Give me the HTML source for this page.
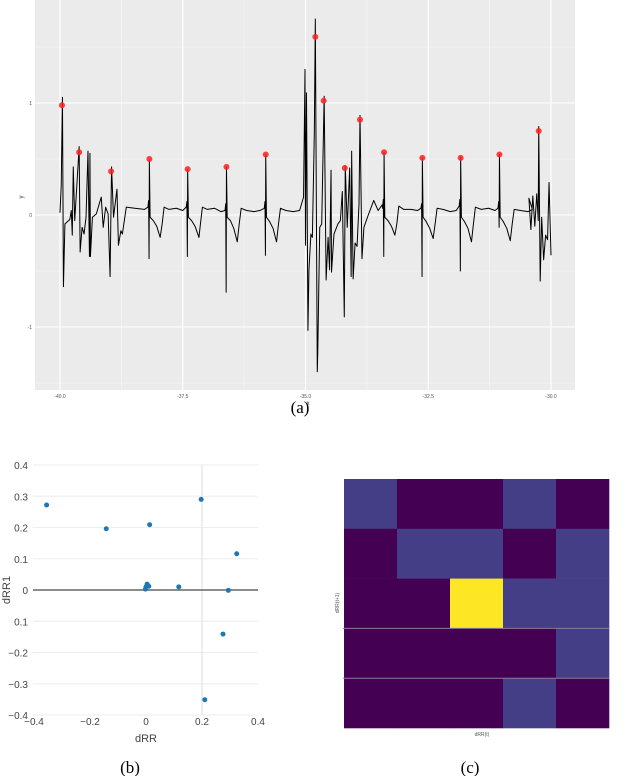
<!DOCTYPE html>
<html><head><meta charset="utf-8">
<style>
html,body{margin:0;padding:0;background:#fff;width:640px;height:776px;overflow:hidden}
svg{display:block}
text{font-family:"Liberation Sans",sans-serif}
.cap{font-family:"Liberation Serif",serif;font-size:17px;fill:#000}
</style></head>
<body>
<svg id="fig" width="640" height="776" viewBox="0 0 640 776">
  <g id="pa"></g>
  <text class="cap" x="300" y="413" text-anchor="middle">(a)</text>
  <g id="pb"></g>
  <text class="cap" x="130" y="773" text-anchor="middle">(b)</text>
  <g id="pc"></g>
  <text class="cap" x="470" y="773" text-anchor="middle">(c)</text>
</svg>
<script>
// ---- Panel (a): ECG ----
const ecgX = [-40.00,-39.975,-39.95,-39.93,-39.90,-39.80,-39.77,-39.75,-39.73,-39.70,-39.61,-39.59,-39.55,-39.51,-39.47,-39.43,-39.40,-39.39,-39.38,-39.34,-39.26,-39.16,-39.12,-39.07,-39.02,-38.98,-38.95,-38.91,-38.84,-38.81,-38.76,-38.73,-38.65,-38.48,
-38.28,-38.21,-38.195,-38.186,-38.18,-38.165,-38.10,-38.03,-37.96,-37.92,-37.88,-37.78,-37.63,-37.50,
-37.43,-37.415,-37.406,-37.40,-37.385,-37.32,-37.25,-37.17,-37.14,-37.10,-37.00,-36.85,-36.72,
-36.64,-36.625,-36.616,-36.61,-36.595,-36.53,-36.46,-36.39,-36.35,-36.31,-36.20,-36.05,-35.93,
-35.84,-35.825,-35.816,-35.81,-35.795,-35.73,-35.66,-35.59,-35.55,-35.51,-35.40,-35.25,-35.12,
-35.04,-35.01,-35.00,-34.98,-34.95,-34.93,-34.89,-34.86,-34.82,-34.80,-34.76,-34.75,-34.71,-34.67,-34.62,-34.58,-34.54,-34.51,-34.48,-34.47,-34.42,-34.34,-34.29,-34.25,-34.21,-34.19,-34.15,-34.10,-34.07,-34.06,-34.03,-33.99,-33.95,-33.91,-33.89,-33.85,-33.81,-33.73,-33.61,-33.52,-33.44,
-33.43,-33.415,-33.406,-33.40,-33.385,-33.32,-33.25,-33.18,-33.14,-33.10,-33.00,-32.85,-32.72,
-32.65,-32.635,-32.626,-32.62,-32.605,-32.54,-32.47,-32.40,-32.36,-32.32,-32.20,-32.05,-31.93,
-31.87,-31.855,-31.846,-31.84,-31.825,-31.76,-31.69,-31.62,-31.58,-31.54,-31.42,-31.27,-31.14,
-31.08,-31.065,-31.056,-31.05,-31.035,-30.97,-30.90,-30.83,-30.79,-30.75,-30.62,-30.47,-30.38,
-30.45,-30.41,-30.37,-30.33,-30.29,-30.26,-30.25,-30.22,-30.19,-30.15,-30.11,-30.07,-30.04,-30.00];
const ecgY = [0.02,0.27,1.05,-0.64,-0.08,-0.04,0.04,-0.18,0.43,-0.05,0.61,-0.33,-0.11,-0.17,-0.02,0.57,-0.37,0.55,-0.37,-0.02,0.01,0.16,-0.11,0.07,0.01,-0.55,0.43,-0.02,0.23,-0.27,-0.14,-0.17,0.07,0.06,
0.05,0.07,0.13,-0.39,0.49,-0.02,-0.05,-0.10,-0.20,-0.08,0.07,0.05,0.06,0.04,
0.07,0.12,-0.37,0.41,-0.02,-0.05,-0.10,-0.20,-0.08,0.07,0.05,0.06,0.03,
0.04,0.10,-0.69,0.43,-0.02,-0.05,-0.12,-0.24,-0.08,0.06,0.04,0.03,0.04,
0.06,0.12,-0.36,0.54,-0.02,-0.06,-0.12,-0.24,-0.08,0.06,0.04,0.03,0.04,
0.16,1.30,-0.27,1.09,-1.03,-0.49,-0.17,-0.20,0.74,1.75,-1.40,-1.22,-0.11,-0.08,1.06,-0.58,-0.20,-0.49,0.40,-0.51,-0.17,-0.08,-0.05,0.21,-0.91,0.44,-0.11,0.42,-0.55,0.57,-0.57,-0.25,-0.28,0.10,0.89,-0.39,-0.11,-0.01,0.13,0.04,0.09,
0.06,0.14,-0.37,0.56,-0.02,-0.05,-0.10,-0.18,-0.08,0.08,0.05,0.05,0.04,
0.06,0.10,-0.55,0.51,-0.02,-0.06,-0.12,-0.21,-0.08,0.06,0.05,0.03,0.04,
0.08,0.14,-0.50,0.52,-0.02,-0.06,-0.12,-0.24,-0.08,0.07,0.05,0.06,0.04,
0.06,0.12,-0.11,0.54,-0.02,-0.06,-0.12,-0.23,-0.08,0.05,0.04,0.03,0.05,
0.15,-0.13,0.17,-0.10,0.19,-0.05,0.79,-0.59,-0.02,-0.40,-0.18,-0.22,0.29,-0.36];
const peakX = [-39.96,-39.61,-38.96,-38.18,-37.40,-36.61,-35.81,-34.80,-34.63,-34.20,-33.89,-33.40,-32.62,-31.84,-31.05,-30.25];
const peakY = [0.98,0.56,0.39,0.50,0.41,0.43,0.54,1.59,1.02,0.42,0.85,0.56,0.51,0.51,0.54,0.75];
const aXTicks = [-40,-37.5,-35,-32.5,-30];
const aXTickLabels = ["-40.0","-37.5","-35.0","-32.5","-30.0"];
const aYTicks = [-1,0,1];
const aYTickLabels = ["-1","0","1"];

// ---- Panel (b): Poincare ----
const dRR = [-0.355,-0.142,0.013,0.197,0.324,0.004,0.0,0.010,-0.002,0.117,0.294,0.275,0.210];
const dRR1 = [0.272,0.196,0.209,0.290,0.116,0.019,0.010,0.012,0.003,0.010,-0.001,-0.141,-0.351];
const bXTicks = [-0.4,-0.2,0,0.2,0.4];
const bXTickLabels = ["\u22120.4","\u22120.2","0","0.2","0.4"];
const bYTicks = [0.4,0.3,0.2,0.1,0,-0.1,-0.2,-0.3,-0.4];
const bYTickLabels = ["0.4","0.3","0.2","0.1","0","0.1","\u22120.2","\u22120.3","\u22120.4"];

// ---- Panel (c): heatmap ----
const heatRows = [[1,0,0,1,0],[0,1,1,0,1],[0,0,4,1,1],[0,0,0,0,1],[0,0,0,1,0]];
const heatColors = ["#440154","#433e85","#433e85","#433e85","#fde725"];

const NS="http://www.w3.org/2000/svg";
function mk(parent,tag,attrs){const e=document.createElementNS(NS,tag);for(const k in attrs)e.setAttribute(k,attrs[k]);parent.appendChild(e);return e;}

// Panel a
(function(){
  const g=document.getElementById('pa');
  const L=35,R=575,T=0,B=390;
  const sx=x=>60+(x+40)*49.1, sy=y=>215-y*112;
  const bg=mk(g,'rect',{x:L,y:T,width:R-L,height:B-T,fill:'#ebebeb'});
  
  
  for(const v of [-1.5,-0.5,0.5,1.5]){const l=mk(g,'line',{x1:L,x2:R,y1:sy(v),y2:sy(v),stroke:'#f6f6f6','stroke-width':0.6});}
  for(const v of [-38.75,-36.25,-33.75,-31.25]){const l=mk(g,'line',{y1:T,y2:B,x1:sx(v),x2:sx(v),stroke:'#f6f6f6','stroke-width':0.6});}
  aYTicks.forEach((v,i)=>{const l=mk(g,'line',{x1:L,x2:R,y1:sy(v),y2:sy(v),stroke:'#fff','stroke-width':1.1});
    const t=mk(g,'text',{x:L-3,y:sy(v)+2,'font-size':5,fill:'#555','text-anchor':'end'});t.textContent=aYTickLabels[i];});
  aXTicks.forEach((v,i)=>{const l=mk(g,'line',{y1:T,y2:B,x1:sx(v),x2:sx(v),stroke:'#fff','stroke-width':1.1});
    const t=mk(g,'text',{x:sx(v),y:B+8,'font-size':5,fill:'#555','text-anchor':'middle'});t.textContent=aXTickLabels[i];});
  const xt=mk(g,'text',{x:308,y:B+15,'font-size':6,fill:'#333','text-anchor':'middle'});xt.textContent='x';
  const yt=mk(g,'text',{x:23,y:197,'font-size':6,fill:'#333','text-anchor':'middle',transform:'rotate(-90 23 197)'});yt.textContent='y';
  let d='';ecgX.forEach((x,i)=>{d+=(i?'L':'M')+sx(x).toFixed(2)+' '+sy(ecgY[i]).toFixed(2);});
  const p=mk(g,'path',{d:d,fill:'none',stroke:'#000','stroke-width':1,'stroke-linejoin':'round'});
  
  
  peakX.forEach((x,i)=>{const c=mk(g,'circle',{cx:sx(x),cy:sy(peakY[i]),r:3,fill:'#ff2020','fill-opacity':0.85});
    
    });
})();

// Panel b
(function(){
  const g=document.getElementById('pb');
  const sx=x=>146+x*280, sy=y=>590-y*312.5;
  bYTicks.forEach((v,i)=>{ if(v!==0){const l=mk(g,'line',{x1:33,x2:258,y1:sy(v),y2:sy(v),stroke:'#eeeeee','stroke-width':1});}
    const t=mk(g,'text',{x:28,y:sy(v)+4,'font-size':10,fill:'#444','text-anchor':'end'});t.textContent=bYTickLabels[i];});
  const vg=mk(g,'line',{x1:sx(0.2),x2:sx(0.2),y1:465,y2:715,stroke:'#e8e8e8','stroke-width':1.5});
  
  const zl=mk(g,'line',{x1:33,x2:258,y1:sy(0),y2:sy(0),stroke:'#666','stroke-width':1.6});
  
  bXTicks.forEach((v,i)=>{const t=mk(g,'text',{x:sx(v),y:725,'font-size':10,fill:'#444','text-anchor':'middle'});t.textContent=bXTickLabels[i];});
  const xt=mk(g,'text',{x:146,y:742,'font-size':11,fill:'#444','text-anchor':'middle'});xt.textContent='dRR';
  const yt=mk(g,'text',{x:10,y:590,'font-size':11,fill:'#444','text-anchor':'middle',transform:'rotate(-90 10 590)'});yt.textContent='dRR1';
  dRR.forEach((x,i)=>{const c=mk(g,'circle',{cx:sx(x),cy:sy(dRR1[i]),r:2.5,fill:'#1f77b4'});
    
    });
})();

// Panel c
(function(){
  const g=document.getElementById('pc');
  const L=344,T=479,W=53,H=49.8;
  heatRows.forEach((row,r)=>row.forEach((v,c)=>{const e=mk(g,'rect',{x:L+c*W,y:T+r*H,width:W+0.3,height:H+0.3,fill:heatColors[v]});
    
    }));
  for(const r of [3,4]){const l=mk(g,'line',{x1:L-1,x2:L+5*W,y1:T+r*H,y2:T+r*H,stroke:'#8a7a9a','stroke-width':1});}
  const xt=mk(g,'text',{x:482,y:736,'font-size':5,fill:'#555','text-anchor':'middle'});xt.textContent='dRR(t)';
  const yt=mk(g,'text',{x:339,y:603,'font-size':5,fill:'#555','text-anchor':'middle',transform:'rotate(-90 339 603)'});yt.textContent='dRR(t+1)';
})();
</script>
</body></html>
